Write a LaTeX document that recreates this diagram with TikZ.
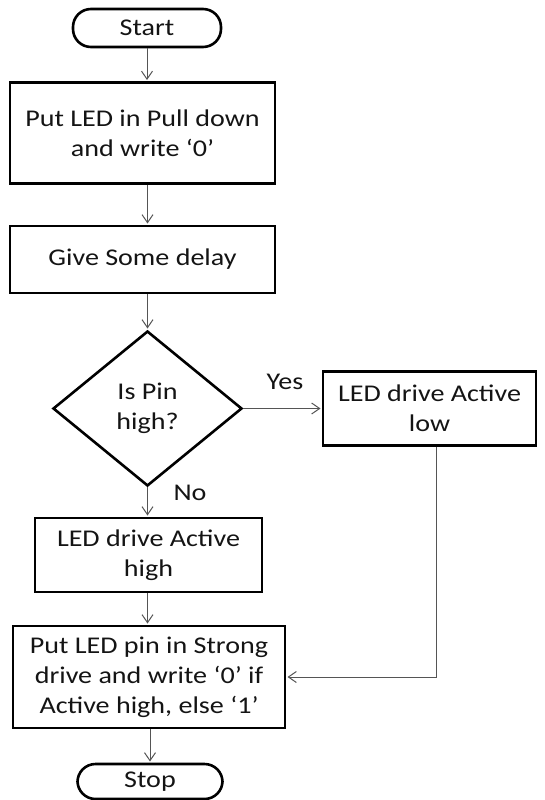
\documentclass[tikz,border=0pt]{standalone}
\usepackage{fontspec}
\setmainfont{Carlito}[FakeStretch=1.17]
\usetikzlibrary{arrows.meta,shapes.geometric}
\definecolor{txt}{HTML}{141414}
\definecolor{linegray}{HTML}{555555}
\newcommand\flowfont{\fontsize{24}{30}\selectfont}

\begin{document}
\begin{tikzpicture}[x=1pt,y=-1pt,
  box/.style={draw=black,line width=2.6pt,rectangle,inner sep=0pt,
    align=center,text=txt,font=\flowfont},
  term/.style={box,rounded corners=18pt},
  decision/.style={box,diamond,aspect=1.22},
  lbl/.style={text=txt,font=\flowfont,inner sep=0pt},
  conn/.style={draw=linegray,line width=1pt,shorten >=1.2pt,
    -{Straight Barb[length=8pt,width=11pt]}}
]
\useasboundingbox (0,0) rectangle (545,800);

% process steps
\node[term, minimum width=148, minimum height=38] (start) at (147,28) {Start};
\node[box, minimum width=265, minimum height=101] (b1) at (142.5,133)
  {Put LED in Pull down\\and write ‘0’};
\node[box, minimum width=265, minimum height=67] (b2) at (142.5,259.5)
  {Give Some delay};
\node[decision, minimum width=189, minimum height=155] (d) at (147.5,408.5)
  {Is Pin\\high?};
\node[box, minimum width=213, minimum height=74] (b3) at (429.5,408.5)
  {LED drive Active\\low};
\node[box, minimum width=227, minimum height=74] (b4) at (148.5,555)
  {LED drive Active\\high};
\node[box, minimum width=272, minimum height=102] (b5) at (149,677)
  {Put LED pin in Strong\\drive and write ‘0’ if\\Active high, else ‘1’};
\node[term, minimum width=145, minimum height=35] (stop) at (150,781.5) {Stop};

% branch labels
\node[lbl] (yes) at (285,382) {Yes};
\node[lbl] (no) at (190,493) {No};

% connectors
\coordinate (col) at (147.5,0);
\draw[conn] (start.south) -- (b1.north -| start.south);
\draw[conn] (b1.south -| col) -- (b2.north -| col);
\draw[conn] (b2.south -| col) -- (d.north);
\draw[conn] (d.east) -- (b3.west);
\draw[conn] (d.south) -- (b4.north -| d.south);
\draw[conn] (b4.south -| col) -- (b5.north -| col);
\draw[conn] (b5.south -| stop.north) -- (stop.north);
\draw[conn] ([xshift=6.5pt]b3.south) |- (b5.east);
\end{tikzpicture}
\end{document}
